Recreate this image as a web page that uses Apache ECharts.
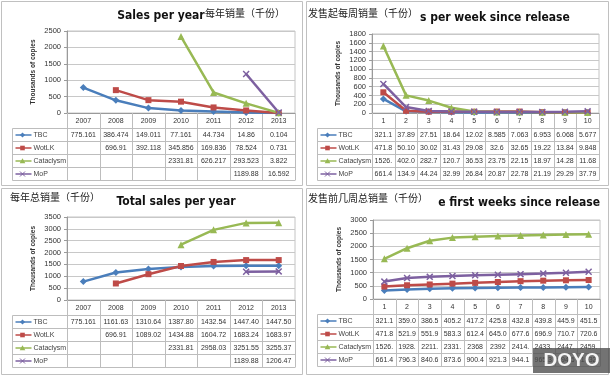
<!DOCTYPE html>
<html><head><meta charset="utf-8">
<script src="https://cdn.jsdelivr.net/npm/echarts@6/dist/echarts.min.js"></script>
<style>html,body{margin:0;padding:0;background:#fff}#c{width:610px;height:376px}</style>
</head><body><div id="c"></div>
<script>
// ---- data ----
const years = ['2007','2008','2009','2010','2011','2012','2013'];
const weeks = ['1','2','3','4','5','6','7','8','9','10'];
const seriesNames = ['TBC','WotLK','Cataclysm','MoP'];

const tbcYear   = ['775.161','386.474','149.011','77.161','44.734','14.86','0.104'];
const wotlkYear = ['','696.91','392.118','345.856','169.836','78.524','0.731'];
const cataYear  = ['','','','2331.81','626.217','293.523','3.822'];
const mopYear   = ['','','','','','1189.88','16.592'];

const tbcWeek   = ['321.1','37.89','27.51','18.64','12.02','8.585','7.063','6.953','6.068','5.677'];
const wotlkWeek = ['471.8','50.10','30.02','31.43','29.08','32.6','32.65','19.22','13.84','9.848'];
const cataWeek  = ['1526.','402.0','282.7','120.7','36.53','23.75','22.15','18.97','14.28','11.68'];
const mopWeek   = ['661.4','134.9','44.24','32.99','26.84','20.87','22.78','21.19','29.29','37.79'];

const tbcTotal   = ['775.161','1161.63','1310.64','1387.80','1432.54','1447.40','1447.50'];
const wotlkTotal = ['','696.91','1089.02','1434.88','1604.72','1683.24','1683.97'];
const cataTotal  = ['','','','2331.81','2958.03','3251.55','3255.37'];
const mopTotal   = ['','','','','','1189.88','1206.47'];

const tbcCum   = ['321.1','359.0','386.5','405.2','417.2','425.8','432.8','439.8','445.9','451.5'];
const wotlkCum = ['471.8','521.9','551.9','583.3','612.4','645.0','677.6','696.9','710.7','720.6'];
const cataCum  = ['1526.','1928.','2211.','2331.','2368','2392','2414.','2433.','2447.','2459.'];
const mopCum   = ['661.4','796.3','840.6','873.6','900.4','921.3','944.1','965.3','994.6','1032'];

const yMax  = [2500, 1800, 3500, 3000];
const yStep = [500, 200, 500, 500];

// ---- styles / layout ----
const colors = ['#4A7EBB','#BE4B48','#98B954','#7D60A0'];
const xSym = 'path://M0,1.5L1.5,0L5,3.5L8.5,0L10,1.5L6.5,5L10,8.5L8.5,10L5,6.5L1.5,10L0,8.5L3.5,5Z';
const symbols = ['diamond','rect','triangle',xSym];
const symSizes = [7,6,7,7];
const titleFont = '"Liberation Sans Narrow","DejaVu Sans Condensed","Liberation Sans",sans-serif';
const cnFont = '"Noto Sans CJK SC",sans-serif';
const txtFont = '"Liberation Sans",Arial,sans-serif';

const panels = [
  {box:[1.5,1.5,301,184], grid:{left:67,right:315,top:31,bottom:263}, cats:years,
   rows:[tbcYear,wotlkYear,cataYear,mopYear], tableLeft:12,
   title:{text:'Sales per year',x:161,y:16,align:'center'}, cn:{text:'每年销量（千份）',x:205,y:13}},
  {box:[306.5,1.5,302,184], grid:{left:372,right:11,top:34,bottom:263}, cats:weeks,
   rows:[tbcWeek,wotlkWeek,cataWeek,mopWeek], tableLeft:317,
   title:{text:'s per week since release',x:420,y:18,align:'left'}, cn:{text:'发售起每周销量（千份）',x:308,y:13}},
  {box:[1.5,188.5,301,186], grid:{left:67,right:315,top:217,bottom:76}, cats:years,
   rows:[tbcTotal,wotlkTotal,cataTotal,mopTotal], tableLeft:12,
   title:{text:'Total sales per year',x:176,y:202,align:'center'}, cn:{text:'每年总销量（千份）',x:10,y:197}},
  {box:[306.5,188.5,302,186], grid:{left:373,right:10,top:220,bottom:77}, cats:weeks,
   rows:[tbcCum,wotlkCum,cataCum,mopCum], tableLeft:317,
   title:{text:'e first weeks since release',x:600,y:203,align:'right'}, cn:{text:'发售前几周总销量（千份）',x:308,y:198}}
];

const toNum = a => a.map(s => s === '' ? null : Number(s));

const chart = echarts.init(document.getElementById('c'), null, {renderer:'canvas'});

const grids = [], xAxes = [], yAxes = [], series = [];
panels.forEach((p, i) => {
  grids.push(Object.assign({show:true, borderColor:'#c4c4c4', borderWidth:1, backgroundColor:'transparent'}, p.grid));
  xAxes.push({type:'category', gridIndex:i, data:p.cats, boundaryGap:true,
    axisLine:{lineStyle:{color:'#9a9a9a'}}, axisTick:{show:false},
    axisLabel:{fontSize:7, color:'#333', margin:5, fontFamily:txtFont}, splitLine:{show:false}});
  yAxes.push({type:'value', gridIndex:i, min:0, max:yMax[i], interval:yStep[i],
    name:'Thousands of copies', nameLocation:'middle', nameGap:30, nameRotate:90,
    nameTextStyle:{fontSize:6.5, fontWeight:'bold', color:'#333', fontFamily:txtFont},
    axisLine:{show:true, lineStyle:{color:'#9a9a9a'}}, axisTick:{show:true, length:3, lineStyle:{color:'#9a9a9a'}},
    axisLabel:{fontSize:7.5, color:'#333', margin:6, fontFamily:txtFont, formatter: v => String(v)},
    splitLine:{lineStyle:{color:'#c8c8c8'}}});
  p.rows.forEach((r, k) => {
    series.push({type:'line', name:seriesNames[k], xAxisIndex:i, yAxisIndex:i, data:toNum(r),
      symbol:symbols[k], symbolSize:symSizes[k], showSymbol:true, connectNulls:false,
      lineStyle:{width:2.5, color:colors[k]}, itemStyle:{color:colors[k]}, animation:false, z:3});
  });
});

chart.setOption({backgroundColor:'#fff', animation:false, grid:grids, xAxis:xAxes, yAxis:yAxes, series:series});

// ---- tables, titles, frames via graphic ----
const g = [];
const L = (x1,y1,x2,y2,c,w) => g.push({type:'line', silent:true, z:1, shape:{x1,y1,x2,y2}, style:{stroke:c||'#bdbdbd', lineWidth:w||1}});
const T = (text,x,y,opt) => g.push(Object.assign({type:'text', silent:true, z:5,
  style:Object.assign({text, x, y, fill:'#333', font:'7px '+txtFont, align:'center', verticalAlign:'middle'}, opt||{})}));

panels.forEach((p, i) => {
  g.push({type:'rect', silent:true, z:0, shape:{x:p.box[0], y:p.box[1], width:p.box[2], height:p.box[3]},
    style:{fill:'none', stroke:'#c0c0c0', lineWidth:1}});
  const n = p.cats.length;
  const cx = p.cats.map((c, j) => chart.convertToPixel({xAxisIndex:i}, j));
  const band = cx[1] - cx[0];
  const y0 = chart.convertToPixel({yAxisIndex:i}, 0);
  const gl = cx[0] - band/2, gr = cx[n-1] + band/2;
  const hdrB = Math.round(y0) + 15.5, rh = 13;
  const bottom = hdrB + rh*4;
  const tl = p.tableLeft + 0.5;
  for (let r = 0; r <= 4; r++) L(tl, hdrB + r*rh, gr, hdrB + r*rh);
  L(tl, hdrB, tl, bottom);
  for (let j = 0; j <= n; j++) {
    const x = Math.round(gl + j*band) + 0.5;
    L(x, y0, x, bottom);
  }
  p.rows.forEach((r, k) => {
    const yc = hdrB + rh*k + rh/2;
    const kx = tl + 10;
    L(tl + 3, yc, tl + 19, yc, colors[k], 1.5);
    const s = 2.6;
    if (k === 0) g.push({type:'polygon', silent:true, z:5, shape:{points:[[kx,yc-s],[kx+s,yc],[kx,yc+s],[kx-s,yc]]}, style:{fill:colors[k]}});
    if (k === 1) g.push({type:'rect', silent:true, z:5, shape:{x:kx-2.3,y:yc-2.3,width:4.6,height:4.6}, style:{fill:colors[k]}});
    if (k === 2) g.push({type:'polygon', silent:true, z:5, shape:{points:[[kx,yc-2.8],[kx+2.8,yc+2.2],[kx-2.8,yc+2.2]]}, style:{fill:colors[k]}});
    if (k === 3) { L(kx-2.5,yc-2.5,kx+2.5,yc+2.5,colors[k],1); L(kx-2.5,yc+2.5,kx+2.5,yc-2.5,colors[k],1); }
    T(seriesNames[k], tl + 21, yc, {align:'left', fill:'#444'});
    r.forEach((v, j) => { if (v !== '') T(v, cx[j], yc); });
  });
  T(p.title.text, p.title.x, p.title.y, {align:p.title.align, font:'bold 12px '+titleFont, fill:'#111'});
  T(p.cn.text, p.cn.x, p.cn.y, {align:'left', font:'10px '+cnFont, fill:'#222'});
});

// watermark
g.push({type:'rect', silent:true, z:20, shape:{x:533, y:348, width:77, height:25}, style:{fill:'rgba(75,75,75,0.78)'}});
T('DOYO', 571.5, 361, {font:'bold 19px '+txtFont, fill:'rgba(255,255,255,0.92)'});
g[g.length-1].z = 21;

chart.setOption({graphic:{elements:g}});
</script></body></html>
